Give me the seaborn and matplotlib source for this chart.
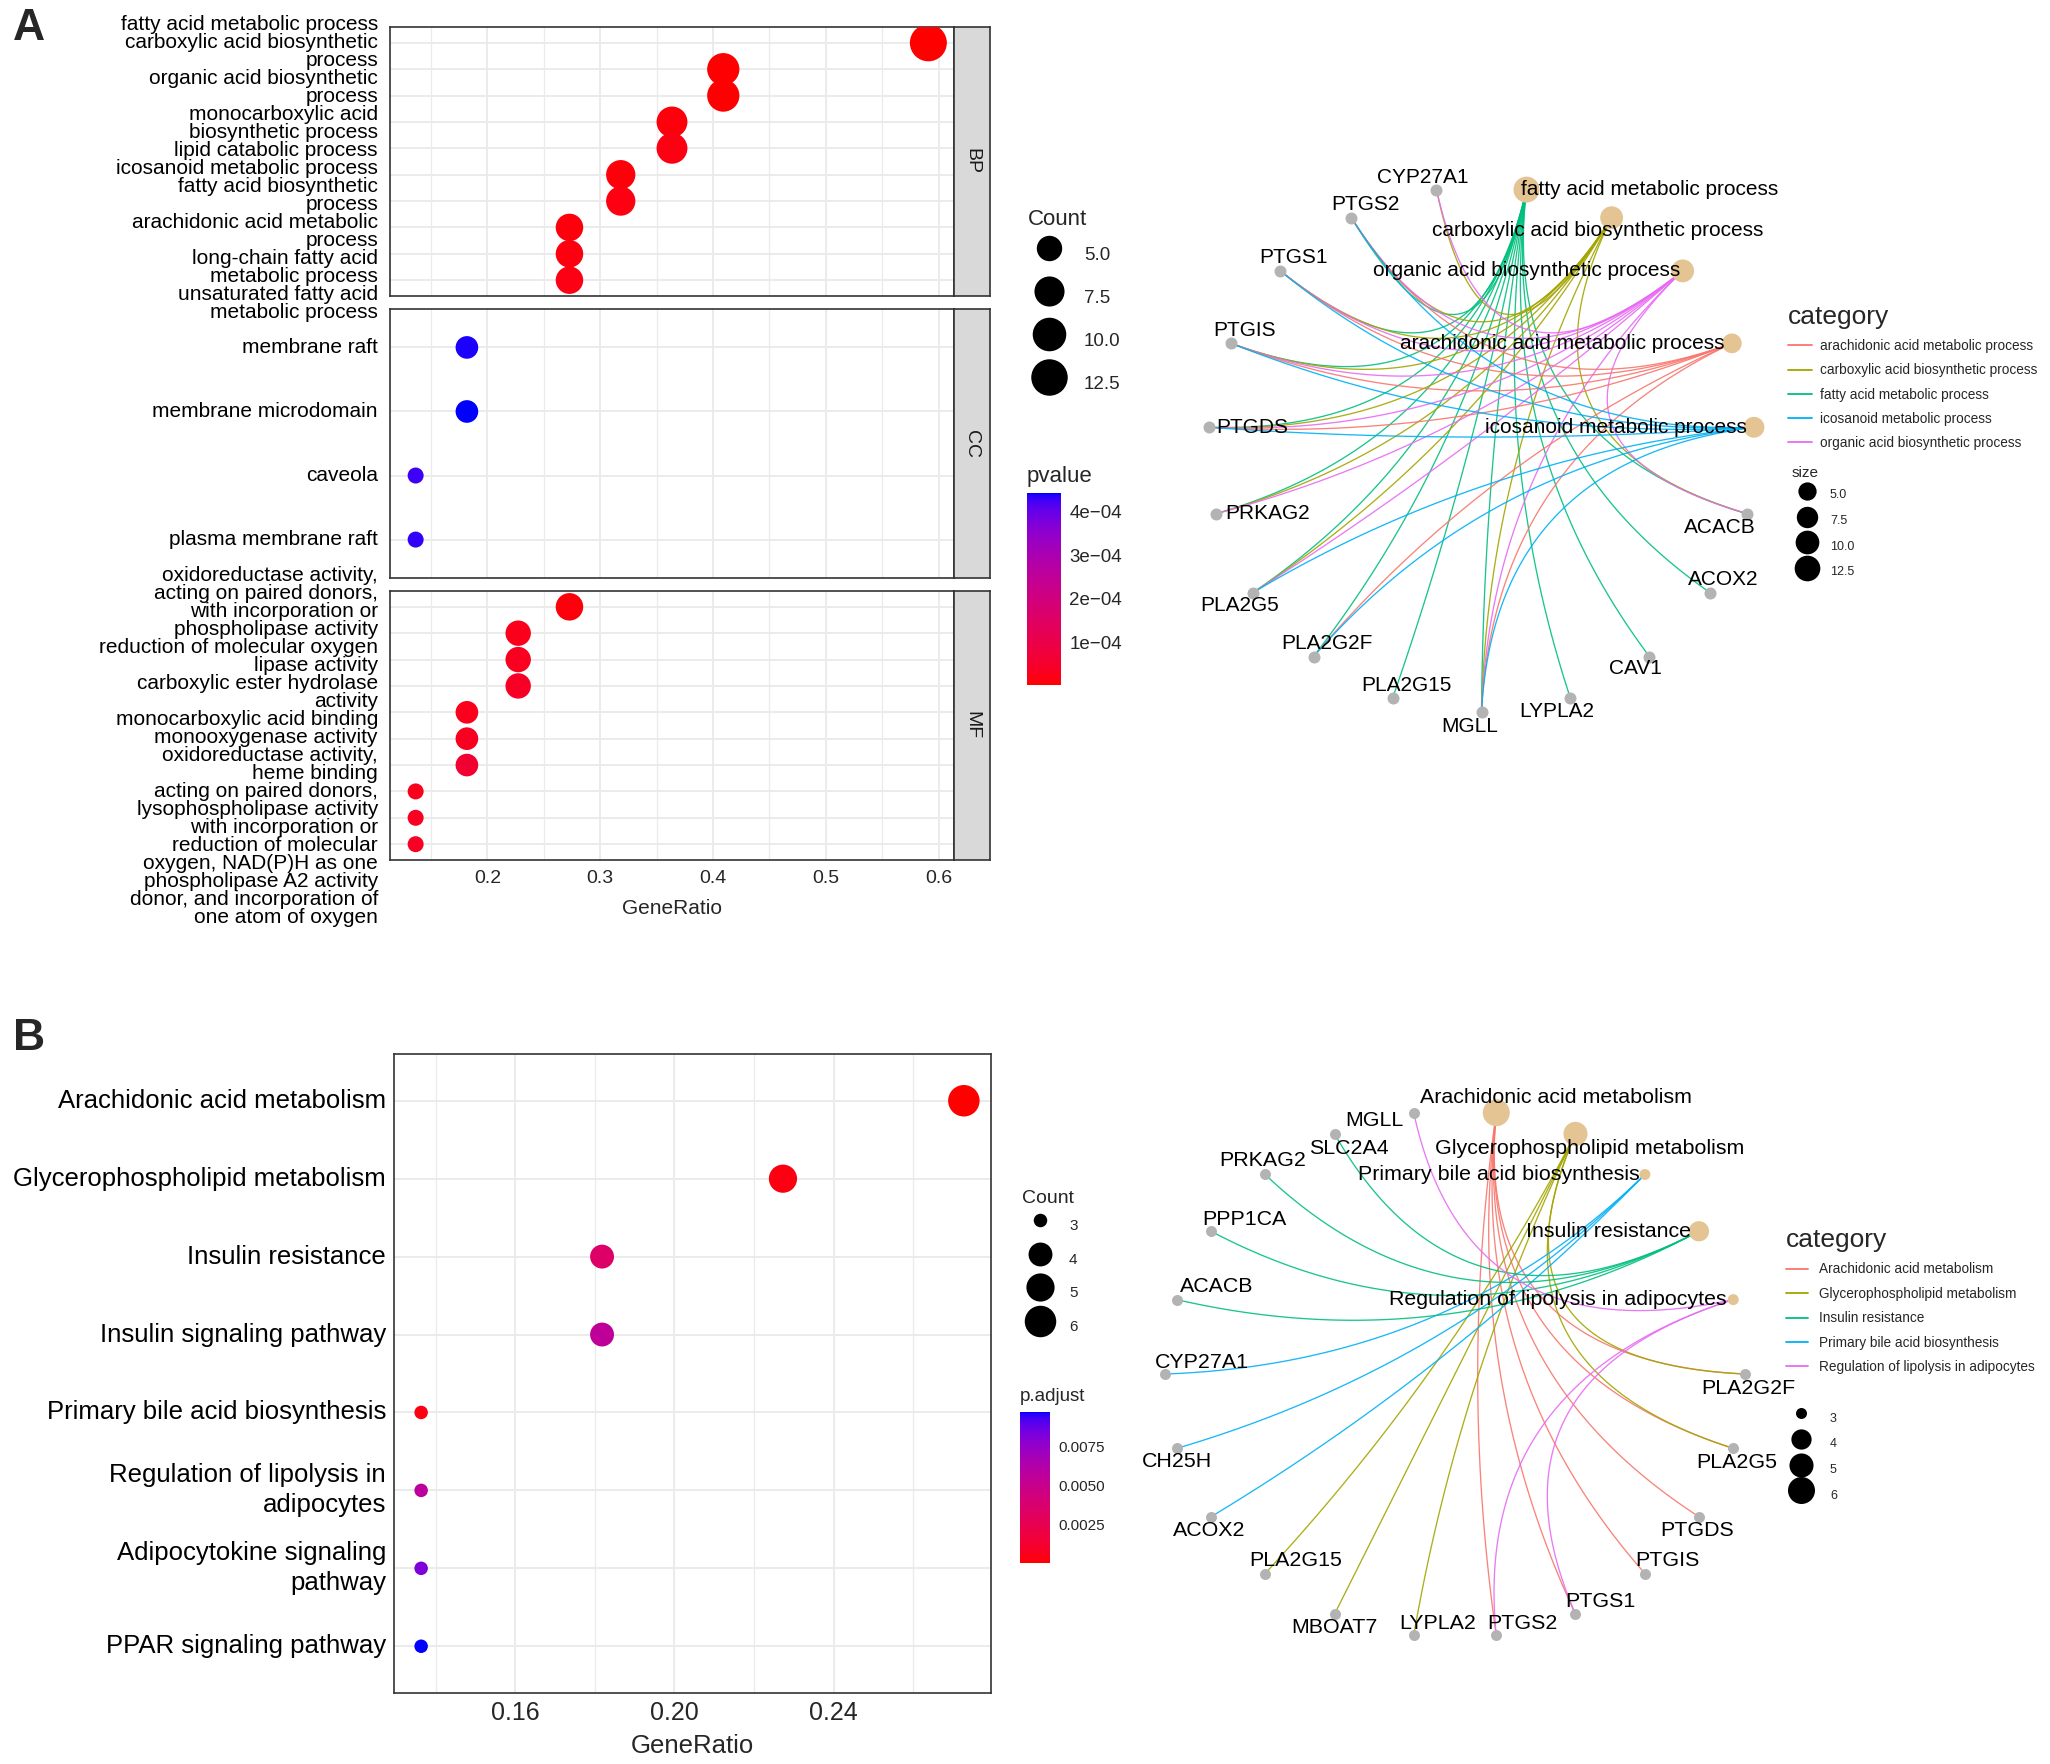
import numpy as np
import pandas as pd
import matplotlib
matplotlib.use("Agg")
import matplotlib.pyplot as plt
from matplotlib.lines import Line2D
from matplotlib.colors import ListedColormap, Normalize
from matplotlib.cm import ScalarMappable
from matplotlib.transforms import blended_transform_factory
import seaborn as sns

# ---------------- Panel A: GO dot plot (top to bottom in each facet) ----------------
bp_terms = ["fatty acid metabolic process",
            "carboxylic acid biosynthetic\nprocess",
            "organic acid biosynthetic\nprocess",
            "monocarboxylic acid\nbiosynthetic process",
            "lipid catabolic process",
            "icosanoid metabolic process",
            "fatty acid biosynthetic\nprocess",
            "arachidonic acid metabolic\nprocess",
            "long-chain fatty acid\nmetabolic process",
            "unsaturated fatty acid\nmetabolic process"]
bp_count = [13, 9, 9, 8, 8, 7, 7, 6, 6, 6]
bp_pvalue = [2.3e-6, 5.1e-6, 5.1e-6, 1.2e-5, 1.6e-5, 9.8e-6, 1.5e-5, 1.1e-5, 1.3e-5, 1.9e-5]

cc_terms = ["membrane raft", "membrane microdomain", "caveola", "plasma membrane raft"]
cc_count = [4, 4, 3, 3]
cc_pvalue = [4.38e-4, 4.42e-4, 4.28e-4, 4.30e-4]

mf_terms = ["oxidoreductase activity,\nacting on paired donors,\nwith incorporation or\nreduction of molecular oxygen",
            "phospholipase activity",
            "lipase activity",
            "carboxylic ester hydrolase\nactivity",
            "monocarboxylic acid binding",
            "monooxygenase activity",
            "heme binding",
            "lysophospholipase activity",
            "oxidoreductase activity,\nacting on paired donors,\nwith incorporation or\nreduction of molecular\noxygen, NAD(P)H as one\ndonor, and incorporation of\none atom of oxygen",
            "phospholipase A2 activity"]
mf_count = [6, 5, 5, 5, 4, 4, 4, 3, 3, 3]
mf_pvalue = [1.2e-5, 2.6e-5, 3.3e-5, 4.1e-5, 2.7e-5, 3.4e-5, 6.1e-5, 2.9e-5, 3.6e-5, 3.9e-5]

go_gene_total = 22
go_xticks = [0.2, 0.3, 0.4, 0.5, 0.6]
go_xminor = [0.15, 0.25, 0.35, 0.45, 0.55]
go_count_breaks = [5.0, 7.5, 10.0, 12.5]
go_pvalue_ticks = [1e-4, 2e-4, 3e-4, 4e-4]

# ---------------- Panel B: KEGG dot plot ----------------
kegg_terms = ["Arachidonic acid metabolism",
              "Glycerophospholipid metabolism",
              "Insulin resistance",
              "Insulin signaling pathway",
              "Primary bile acid biosynthesis",
              "Regulation of lipolysis in\nadipocytes",
              "Adipocytokine signaling\npathway",
              "PPAR signaling pathway"]
kegg_count = [6, 5, 4, 4, 3, 3, 3, 3]
kegg_padj = [6.0e-5, 4.0e-4, 3.5e-3, 5.6e-3, 3.5e-4, 5.8e-3, 8.2e-3, 9.74e-3]
kegg_gene_total = 22
kegg_xticks = [0.16, 0.20, 0.24]
kegg_xminor = [0.14, 0.18, 0.22, 0.26]
kegg_count_breaks = [3, 4, 5, 6]
kegg_padj_ticks = [0.0025, 0.0050, 0.0075]

# ---------------- gene-concept networks ----------------
netA_categories = ["icosanoid metabolic process", "arachidonic acid metabolic process",
                   "organic acid biosynthetic process", "carboxylic acid biosynthetic process",
                   "fatty acid metabolic process"]
netA_genes = ["CYP27A1", "PTGS2", "PTGS1", "PTGIS", "PTGDS", "PRKAG2", "PLA2G5",
              "PLA2G2F", "PLA2G15", "MGLL", "LYPLA2", "CAV1", "ACOX2", "ACACB"]
netA_sets = {
    "fatty acid metabolic process": ["PTGS2", "PTGS1", "PTGIS", "PTGDS", "PRKAG2", "PLA2G5", "PLA2G2F",
                                     "PLA2G15", "MGLL", "LYPLA2", "CAV1", "ACOX2", "ACACB"],
    "carboxylic acid biosynthetic process": ["CYP27A1", "PTGS2", "PTGS1", "PTGIS", "PTGDS", "PRKAG2",
                                             "PLA2G5", "MGLL", "ACACB"],
    "organic acid biosynthetic process": ["CYP27A1", "PTGS2", "PTGS1", "PTGIS", "PTGDS", "PRKAG2",
                                          "PLA2G5", "MGLL", "ACACB"],
    "arachidonic acid metabolic process": ["PTGS2", "PTGS1", "PTGIS", "PTGDS", "PLA2G2F", "MGLL"],
    "icosanoid metabolic process": ["PTGS2", "PTGS1", "PTGIS", "PTGDS", "PLA2G5", "PLA2G2F", "MGLL"],
}
netA_size_breaks = [5.0, 7.5, 10.0, 12.5]

netB_categories = ["Regulation of lipolysis in adipocytes", "Insulin resistance",
                   "Primary bile acid biosynthesis", "Glycerophospholipid metabolism",
                   "Arachidonic acid metabolism"]
netB_genes = ["MGLL", "SLC2A4", "PRKAG2", "PPP1CA", "ACACB", "CYP27A1", "CH25H", "ACOX2",
              "PLA2G15", "MBOAT7", "LYPLA2", "PTGS2", "PTGS1", "PTGIS", "PTGDS", "PLA2G5", "PLA2G2F"]
netB_sets = {
    "Arachidonic acid metabolism": ["PLA2G2F", "PLA2G5", "PTGDS", "PTGIS", "PTGS1", "PTGS2"],
    "Glycerophospholipid metabolism": ["PLA2G15", "MBOAT7", "LYPLA2", "PLA2G2F", "PLA2G5"],
    "Primary bile acid biosynthesis": ["CYP27A1", "CH25H", "ACOX2"],
    "Insulin resistance": ["SLC2A4", "PRKAG2", "PPP1CA", "ACACB"],
    "Regulation of lipolysis in adipocytes": ["MGLL", "PTGS1", "PTGS2"],
}
netB_size_breaks = [3, 4, 5, 6]

# ---------------- styling / layout ----------------
W, H = 2050, 1764
DPI = 100
PT = 72 / DPI            # points per pixel
hue5 = ["#F8766D", "#A3A500", "#00BF7D", "#00B0F6", "#E76BF3"]
cat_node_color = "#E5C494"
gene_node_color = "#B3B3B3"

sns.set_style("white")
plt.rcParams["font.family"] = ["Liberation Sans", "DejaVu Sans"]


def lab_ramp(c0, c1, n=256):
    # ggplot style gradient: interpolate in CIELAB
    M = np.array([[0.4124, 0.3576, 0.1805], [0.2126, 0.7152, 0.0722], [0.0193, 0.1192, 0.9505]])
    white = np.array([0.95047, 1.0, 1.08883])

    def to_lab(c):
        c = np.asarray(c, float)
        lin = np.where(c <= 0.04045, c / 12.92, ((c + 0.055) / 1.055) ** 2.4)
        t = (M @ lin) / white
        f = np.where(t > (6 / 29) ** 3, np.cbrt(t), t / (3 * (6 / 29) ** 2) + 4 / 29)
        return np.array([116 * f[1] - 16, 500 * (f[0] - f[1]), 200 * (f[1] - f[2])])

    l0, l1 = to_lab(c0), to_lab(c1)
    t = np.linspace(0, 1, n)[:, None]
    lab = l0 * (1 - t) + l1 * t
    fy = (lab[:, 0] + 16) / 116
    f = np.stack([fy + lab[:, 1] / 500, fy, fy - lab[:, 2] / 200], -1)
    xyz = np.where(f > 6 / 29, f ** 3, 3 * (6 / 29) ** 2 * (f - 4 / 29)) * white
    lin = np.clip(xyz @ np.linalg.inv(M).T, 0, 1)
    rgb = np.where(lin <= 0.0031308, 12.92 * lin, 1.055 * lin ** (1 / 2.4) - 0.055)
    return ListedColormap(np.clip(rgb, 0, 1))


cmap = lab_ramp([1, 0, 0], [0, 0, 1])


def area_scale(vmin, vmax, dmin, dmax):
    # ggplot scale_size: diameter grows with sqrt of the rescaled value; returns area in pt^2
    def fn(v):
        t = np.clip((v - vmin) / (vmax - vmin), 0, 1)
        return ((dmin + (dmax - dmin) * np.sqrt(t)) * PT) ** 2
    return fn


def box(x0, y0, x1, y1):
    return [x0 / W, 1 - y1 / H, (x1 - x0) / W, (y1 - y0) / H]


def stack_lines(labels, step):
    # each label line centred on its row, then pushed apart so lines never overlap
    items = []
    for r, lab in enumerate(labels):
        lines = lab.split("\n")
        for i, t in enumerate(lines):
            items.append((r + (i - (len(lines) - 1) / 2) * step, t))
    items.sort(key=lambda a: a[0])
    blocks = []
    for i, (p, _) in enumerate(items):
        blocks.append([p - i * step, 1])
        while len(blocks) > 1 and blocks[-2][0] / blocks[-2][1] > blocks[-1][0] / blocks[-1][1]:
            s, c = blocks.pop()
            blocks[-1][0] += s
            blocks[-1][1] += c
    z = []
    for s, c in blocks:
        z += [s / c] * c
    return [(z[i] + i * step, items[i][1]) for i in range(len(items))]


def dot_panel(ax, terms, counts, pvals, total, norm, size_fn, height_px,
              xlim, xticks, xminor, label_fs, line_px, gap_px, show_x, shift_px=0):
    n = len(terms)
    df = pd.DataFrame({"Description": terms, "Count": counts, "p": pvals})
    df["GeneRatio"] = df["Count"] / total
    df["row"] = np.arange(n)
    sns.scatterplot(data=df, x="GeneRatio", y="row", hue="p", palette=cmap, hue_norm=norm,
                    size="Count", sizes={c: size_fn(c) for c in set(counts)},
                    linewidth=0, legend=False, ax=ax, zorder=3)
    ax.set_xlim(xlim)
    ax.set_ylim(n - 0.4, -0.6)
    ax.set_xticks(xticks)
    ax.set_xticks(xminor, minor=True)
    ax.set_yticks(range(n))
    ax.set_yticklabels([])
    ax.grid(True, which="major", color="#EBEBEB", lw=1.4)
    ax.grid(True, which="minor", axis="x", color="#EBEBEB", lw=0.9)
    ax.set_axisbelow(True)
    for sp in ax.spines.values():
        sp.set_color("#333333")
        sp.set_linewidth(1.2)
    ax.tick_params(which="major", length=3.5, width=1, color="#333333")
    ax.tick_params(which="minor", length=0)
    ax.set_xlabel("")
    ax.set_ylabel("")
    if not show_x:
        ax.tick_params(axis="x", bottom=False, labelbottom=False)
    # y labels drawn line by line (long wrapped GO names interleave like the original)
    px_per_row = height_px / (n + 0.2)
    trans = blended_transform_factory(ax.transAxes, ax.transData)
    for y, txt in stack_lines(terms, line_px / px_per_row):
        ax.annotate(txt, xy=(0, y + shift_px / px_per_row), xycoords=trans, xytext=(-gap_px * PT, 0),
                    textcoords="offset points", ha="right", va="center",
                    fontsize=label_fs, color="black", annotation_clip=False)


def dot_legend(fig, x, top, title, breaks, labels, size_fn, title_fs, fs, handle_px, gap_px, row_px, handle_h):
    fs_px = fs / PT
    text_h = 0.96 * fs_px
    # matplotlib shrinks the handle box: height = fs * (0.65 * hh + 0.245)
    hh = (handle_h / fs_px - 0.245) / 0.65
    handles = [Line2D([], [], ls="", marker="o", color="black", markeredgewidth=0,
                      markersize=np.sqrt(size_fn(b))) for b in breaks]
    fig.legend(handles, labels, title=title, loc="upper left", bbox_to_anchor=(x / W, 1 - top / H),
               frameon=False, fontsize=fs, title_fontsize=title_fs, alignment="left",
               borderpad=0, borderaxespad=0, handlelength=handle_px / fs_px,
               handleheight=hh, handletextpad=gap_px / fs_px,
               labelspacing=(row_px - max(handle_h, text_h)) / fs_px)


def line_legend(fig, x, top, title, labels, colors, title_fs, fs, handle_px, gap_px, row_px):
    fs_px = fs / PT
    text_h = 0.96 * fs_px
    handles = [Line2D([], [], color=c, lw=1.3) for c in colors]
    fig.legend(handles, labels, title=title, loc="upper left", bbox_to_anchor=(x / W, 1 - top / H),
               frameon=False, fontsize=fs, title_fontsize=title_fs, alignment="left",
               borderpad=0, borderaxespad=0, handlelength=handle_px / fs_px, handleheight=0.7,
               handletextpad=gap_px / fs_px, labelspacing=(row_px - text_h) / fs_px)


def colorbar(fig, cbox, norm, ticks, labels, title, title_fs, fs, pad):
    cax = fig.add_axes(box(*cbox))
    cb = fig.colorbar(ScalarMappable(norm=norm, cmap=cmap), cax=cax)
    cb.set_ticks(ticks)
    cb.set_ticklabels(labels)
    cb.outline.set_visible(False)
    cax.tick_params(direction="in", length=5, width=1, color="white", left=True, right=True,
                    labelleft=False, labelright=True, labelsize=fs, pad=pad)
    cax.set_title(title, loc="left", fontsize=title_fs, pad=8)


def network(ax, cats, genes, sets, theta0, bend, size_fn, gene_val, font, cat_off, gene_off):
    nodes = cats + genes
    ang = np.deg2rad(theta0 + 360 * np.arange(len(nodes)) / len(nodes))
    pos = {nd: np.array([np.cos(a), np.sin(a)]) for nd, a in zip(nodes, ang)}
    colors = dict(zip(sorted(cats), hue5))
    t = np.linspace(0, 1, 80)[:, None]
    for c, members in sets.items():
        for g in members:
            p0, p2 = pos[g], pos[c]
            k = (1 - bend) * (p0 + p2) / 2
            curve = (1 - t) ** 2 * p0 + 2 * t * (1 - t) * k + t ** 2 * p2
            ax.plot(curve[:, 0], curve[:, 1], color=colors[c], lw=0.95, alpha=0.9, zorder=1)
    cdf = pd.DataFrame({"name": cats, "x": [pos[c][0] for c in cats], "y": [pos[c][1] for c in cats],
                        "size": [len(sets[c]) for c in cats]})
    sns.scatterplot(data=cdf, x="x", y="y", size="size", sizes={v: size_fn(v) for v in cdf["size"]},
                    color=cat_node_color, linewidth=0, legend=False, ax=ax, zorder=2)
    sns.scatterplot(x=[pos[g][0] for g in genes], y=[pos[g][1] for g in genes], s=size_fn(gene_val),
                    color=gene_node_color, linewidth=0, legend=False, ax=ax, zorder=2)
    for name, (dx, dy, ha) in list(cat_off.items()) + list(gene_off.items()):
        ax.annotate(name, xy=pos[name], xytext=(dx * PT, -dy * PT), textcoords="offset points",
                    ha=ha, va="center", fontsize=font, color="black", zorder=4)
    ax.set_xlabel("")
    ax.set_ylabel("")
    ax.axis("off")


fig = plt.figure(figsize=(W / DPI, H / DPI), dpi=DPI)

# ---------------- Panel A dot plot ----------------
go_norm = Normalize(min(bp_pvalue + cc_pvalue + mf_pvalue), max(bp_pvalue + cc_pvalue + mf_pvalue))
go_ratio = np.array(bp_count + cc_count + mf_count) / go_gene_total
go_pad = 0.05 * (go_ratio.max() - go_ratio.min())
go_xlim = (go_ratio.min() - go_pad, go_ratio.max() + go_pad)
go_size = area_scale(3, 13, 16, 37)

facets = [("BP", bp_terms, bp_count, bp_pvalue, 27, 296, 0),
          ("CC", cc_terms, cc_count, cc_pvalue, 309, 578, 0),
          ("MF", mf_terms, mf_count, mf_pvalue, 591, 860, 13)]
for name, terms, counts, pvals, y0, y1, shift in facets:
    ax = fig.add_axes(box(390, y0, 954, y1))
    dot_panel(ax, terms, counts, pvals, go_gene_total, go_norm, go_size, y1 - y0,
              go_xlim, go_xticks, go_xminor, 15, 18, 12, name == "MF", shift)
    strip = fig.add_axes(box(954, y0, 990, y1))
    strip.set_facecolor("#D9D9D9")
    strip.set_xticks([])
    strip.set_yticks([])
    for sp in strip.spines.values():
        sp.set_color("#333333")
        sp.set_linewidth(1.2)
    strip.text(0.5, 0.5, name, rotation=-90, ha="center", va="center", fontsize=14,
               color="#1A1A1A", transform=strip.transAxes)
    if name == "MF":
        ax.xaxis.set_major_formatter(plt.FormatStrFormatter("%.1f"))
        ax.tick_params(axis="x", labelsize=14, pad=4)
        ax.set_xlabel("GeneRatio", fontsize=15, labelpad=8)

dot_legend(fig, 1028, 209, "Count", go_count_breaks, [f"{b:.1f}" for b in go_count_breaks],
           go_size, 16, 13.5, 42, 14, 43, 37)
colorbar(fig, (1027, 493, 1061, 685), go_norm, go_pvalue_ticks,
         [f"{v:.0e}".replace("-", "\u2212") for v in go_pvalue_ticks], "pvalue", 16, 13.5, 6)

# ---------------- Panel A network ----------------
cxA, cyA, rxA, ryA, kA = 1481.5, 449, 273.4, 263, 1.3
axA = fig.add_axes(box(cxA - kA * rxA, cyA - kA * ryA, cxA + kA * rxA, cyA + kA * ryA))
axA.set_xlim(-kA, kA)
axA.set_ylim(-kA, kA)
network(axA, netA_categories, netA_genes, netA_sets, 90 / 19, 0.9, area_scale(3, 13, 12, 26), 3, 15,
        {"fatty acid metabolic process": (-6, 0, "left"),
         "carboxylic acid biosynthetic process": (-14, 13, "center"),
         "organic acid biosynthetic process": (-2, 0, "right"),
         "arachidonic acid metabolic process": (-7, 0, "right"),
         "icosanoid metabolic process": (-7, 0, "right")},
        {"CYP27A1": (-14, -12, "center"), "PTGS2": (14, -13, "center"), "PTGS1": (13, -13, "center"),
         "PTGIS": (13, -13, "center"), "PTGDS": (7, 0, "left"), "PRKAG2": (9, 0, "left"),
         "PLA2G5": (-13, 13, "center"), "PLA2G2F": (13, -13, "center"), "PLA2G15": (14, -12, "center"),
         "MGLL": (-12, 14, "center"), "LYPLA2": (-14, 14, "center"), "CAV1": (-14, 12, "center"),
         "ACOX2": (13, -13, "center"), "ACACB": (-27, 14, "center")})
line_legend(fig, 1788, 305, "category", sorted(netA_categories), hue5, 19, 9.8, 24, 8, 23.3)
dot_legend(fig, 1792, 466, "size", netA_size_breaks, [f"{b:.1f}" for b in netA_size_breaks],
           area_scale(3, 13, 12, 26), 11, 9, 30, 8, 25.6, 22)

# ---------------- Panel B dot plot ----------------
kegg_norm = Normalize(min(kegg_padj), max(kegg_padj))
kegg_ratio = np.array(kegg_count) / kegg_gene_total
kegg_pad = 0.05 * (kegg_ratio.max() - kegg_ratio.min())
kegg_size = area_scale(3, 6, 13.5, 31.5)
axB = fig.add_axes(box(394, 1054, 991, 1693))
dot_panel(axB, kegg_terms, kegg_count, kegg_padj, kegg_gene_total, kegg_norm, kegg_size, 1693 - 1054,
          (kegg_ratio.min() - kegg_pad, kegg_ratio.max() + kegg_pad), kegg_xticks, kegg_xminor,
          18.5, 30, 8, True)
axB.xaxis.set_major_formatter(plt.FormatStrFormatter("%.2f"))
axB.tick_params(axis="x", labelsize=18, pad=2)
axB.set_xlabel("GeneRatio", fontsize=18.5, labelpad=7)

dot_legend(fig, 1022, 1190, "Count", kegg_count_breaks, [str(b) for b in kegg_count_breaks],
           kegg_size, 14, 11, 36, 11, 33.5, 30)
colorbar(fig, (1020, 1412, 1050, 1563), kegg_norm, kegg_padj_ticks,
         [f"{v:.4f}" for v in kegg_padj_ticks], "p.adjust", 13.5, 11, 6)

# ---------------- Panel B network ----------------
cxB, cyB, rxB, ryB, kB = 1455, 1374, 290, 264, 1.3
axN = fig.add_axes(box(cxB - kB * rxB, cyB - kB * ryB, cxB + kB * rxB, cyB + kB * ryB))
axN.set_xlim(-kB, kB)
axN.set_ylim(-kB, kB)
network(axN, netB_categories, netB_genes, netB_sets, 360 / 22, 0.9, area_scale(3, 6, 11, 27), 3, 15.4,
        {"Arachidonic acid metabolism": (60, -15, "center"),
         "Glycerophospholipid metabolism": (14, 15, "center"),
         "Primary bile acid biosynthesis": (-5, 0, "right"),
         "Insulin resistance": (-8, 0, "right"),
         "Regulation of lipolysis in adipocytes": (-7, 0, "right")},
        {"MGLL": (-39, 8, "center"), "SLC2A4": (14, 15, "center"), "PRKAG2": (-2, -14, "center"),
         "PPP1CA": (33, -12, "center"), "ACACB": (40, -13, "center"), "CYP27A1": (37, -12, "center"),
         "CH25H": (0, 13, "center"), "ACOX2": (-2, 14, "center"), "PLA2G15": (31, -13, "center"),
         "MBOAT7": (0, 13, "center"), "LYPLA2": (24, -12, "center"), "PTGS2": (26, -12, "center"),
         "PTGS1": (25, -13, "center"), "PTGIS": (23, -13, "center"), "PTGDS": (-2, 14, "center"),
         "PLA2G5": (3, 14, "center"), "PLA2G2F": (3, 14, "center")})
line_legend(fig, 1786, 1228, "category", sorted(netB_categories), hue5, 19, 9.8, 22, 11, 23.5)
dot_legend(fig, 1787, 1405, None, netB_size_breaks, [str(b) for b in netB_size_breaks],
           area_scale(3, 6, 11, 27), 11, 9, 28, 15, 25.7, 26)

# panel tags
fig.text(13 / W, 1 - 8 / H, "A", fontsize=32, fontweight="bold", ha="left", va="top")
fig.text(13 / W, 1 - 1018 / H, "B", fontsize=32, fontweight="bold", ha="left", va="top")

fig.savefig("out.png", dpi=DPI, facecolor="white")
plt.close(fig)
